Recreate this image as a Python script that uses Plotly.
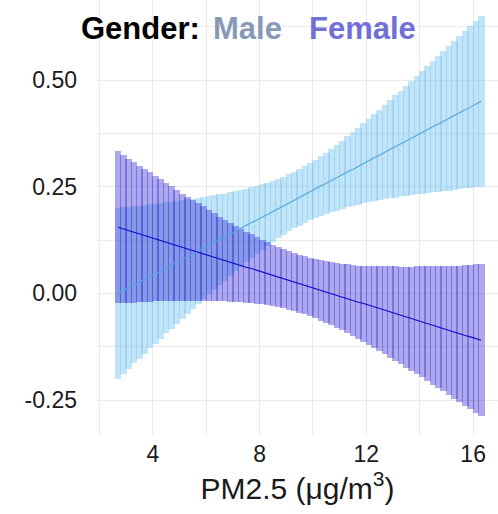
import numpy as np
import plotly.graph_objects as go

# ---- data ----
pm25 = [2.7, 2.9, 3.1, 3.3, 3.5, 3.7, 3.9, 4.1, 4.3, 4.5, 4.7, 4.9, 5.1, 5.3, 5.5,
        5.7, 5.9, 6.1, 6.3, 6.5, 6.7, 6.9, 7.1, 7.3, 7.5, 7.7, 7.9, 8.1, 8.3, 8.5,
        8.7, 8.9, 9.1, 9.3, 9.5, 9.7, 9.9, 10.1, 10.3, 10.5, 10.7, 10.9, 11.1, 11.3,
        11.5, 11.7, 11.9, 12.1, 12.3, 12.5, 12.7, 12.9, 13.1, 13.3, 13.5, 13.7, 13.9,
        14.1, 14.3, 14.5, 14.7, 14.9, 15.1, 15.3, 15.5, 15.7, 15.9, 16.1, 16.3]

male_est = [0.000, 0.007, 0.013, 0.020, 0.026, 0.033, 0.040, 0.046, 0.053, 0.060,
            0.066, 0.073, 0.079, 0.086, 0.093, 0.099, 0.106, 0.113, 0.119, 0.126,
            0.132, 0.139, 0.146, 0.152, 0.159, 0.166, 0.172, 0.179, 0.185, 0.192,
            0.199, 0.205, 0.212, 0.218, 0.225, 0.232, 0.238, 0.245, 0.252, 0.258,
            0.265, 0.271, 0.278, 0.285, 0.291, 0.298, 0.305, 0.311, 0.318, 0.324,
            0.331, 0.338, 0.344, 0.351, 0.357, 0.364, 0.371, 0.377, 0.384, 0.391,
            0.397, 0.404, 0.410, 0.417, 0.424, 0.430, 0.437, 0.444, 0.450]

male_ci = [0.200, 0.195, 0.190, 0.184, 0.179, 0.174, 0.169, 0.164, 0.159, 0.154,
           0.149, 0.144, 0.139, 0.134, 0.129, 0.124, 0.120, 0.115, 0.111, 0.106,
           0.102, 0.098, 0.094, 0.090, 0.086, 0.083, 0.080, 0.077, 0.074, 0.072,
           0.070, 0.068, 0.067, 0.066, 0.066, 0.066, 0.067, 0.068, 0.070, 0.072,
           0.074, 0.077, 0.080, 0.083, 0.086, 0.090, 0.094, 0.098, 0.102, 0.106,
           0.111, 0.115, 0.120, 0.124, 0.129, 0.134, 0.139, 0.144, 0.149, 0.154,
           0.159, 0.164, 0.169, 0.174, 0.179, 0.184, 0.190, 0.195, 0.200]

female_est = [0.155, 0.151, 0.147, 0.143, 0.139, 0.136, 0.132, 0.128, 0.124, 0.120,
              0.116, 0.112, 0.108, 0.104, 0.100, 0.097, 0.093, 0.089, 0.085, 0.081,
              0.077, 0.073, 0.069, 0.065, 0.061, 0.058, 0.054, 0.050, 0.046, 0.042,
              0.038, 0.034, 0.030, 0.026, 0.022, 0.019, 0.015, 0.011, 0.007, 0.003,
              -0.001, -0.005, -0.009, -0.013, -0.017, -0.021, -0.024, -0.028, -0.032,
              -0.036, -0.040, -0.044, -0.048, -0.052, -0.056, -0.060, -0.063, -0.067,
              -0.071, -0.075, -0.079, -0.083, -0.087, -0.091, -0.095, -0.099, -0.102,
              -0.106, -0.110]

female_ci = [0.178, 0.174, 0.169, 0.165, 0.160, 0.156, 0.152, 0.147, 0.143, 0.139,
             0.135, 0.130, 0.126, 0.122, 0.118, 0.114, 0.111, 0.107, 0.103, 0.099,
             0.096, 0.093, 0.089, 0.086, 0.083, 0.081, 0.078, 0.076, 0.074, 0.072,
             0.071, 0.069, 0.069, 0.068, 0.068, 0.068, 0.069, 0.069, 0.071, 0.072,
             0.074, 0.076, 0.078, 0.081, 0.083, 0.086, 0.089, 0.093, 0.096, 0.099,
             0.103, 0.107, 0.111, 0.114, 0.118, 0.122, 0.126, 0.130, 0.135, 0.139,
             0.143, 0.147, 0.152, 0.156, 0.160, 0.165, 0.169, 0.174, 0.178]

x_tick_vals = [4, 8, 12, 16]
x_minor_vals = [2, 6, 10, 14]
y_tick_vals = [-0.25, 0.0, 0.25, 0.5]
y_tick_text = ["-0.25", "0.00", "0.25", "0.50"]
y_minor_vals = [-0.125, 0.125, 0.375, 0.625]
legend_title = "Gender:"
groups = ["Male", "Female"]

# ---- styles ----
FONT = "Liberation Sans, Arial, Helvetica, sans-serif"
GRID = "#EBEBEB"
styles = {
    "Male": dict(fill="rgba(120,196,240,0.45)", line="#4FA6E3", legend="#8899B5"),
    "Female": dict(fill="rgba(40,30,205,0.38)", line="#0A0ACC", legend="#7070D8"),
}
series = {"Male": (male_est, male_ci), "Female": (female_est, female_ci)}

fig = go.Figure()

# ribbons drawn as vertical interval bars
for g in ["Male", "Female"]:
    est = np.array(series[g][0])
    ci = np.array(series[g][1])
    fig.add_trace(go.Bar(
        x=pm25, y=2 * ci, base=est - ci, width=0.25,
        marker=dict(color=styles[g]["fill"], line=dict(width=0)),
        name=g, showlegend=False, hoverinfo="skip",
    ))

for g in ["Male", "Female"]:
    fig.add_trace(go.Scatter(
        x=pm25, y=series[g][0], mode="lines",
        line=dict(color=styles[g]["line"], width=1.1),
        name=g, showlegend=False,
    ))

fig.update_layout(
    width=498, height=514,
    margin=dict(l=97, r=0, t=0, b=79),
    plot_bgcolor="white", paper_bgcolor="white",
    barmode="overlay", bargap=0, showlegend=False,
    font=dict(family=FONT, color="#1a1a1a"),
)

fig.update_xaxes(
    range=[1.91, 16.93], tickmode="array", tickvals=x_tick_vals,
    ticks="", showline=False, zeroline=False,
    showgrid=True, gridcolor=GRID, gridwidth=1.1,
    minor=dict(tickmode="array", tickvals=x_minor_vals, showgrid=True,
               gridcolor=GRID, gridwidth=1.1, ticks=""),
    tickfont=dict(size=23, color="#1a1a1a"), ticklabelstandoff=3,
    title=dict(text="PM2.5 (μg/m<sup>3</sup>)", font=dict(size=30, color="#1a1a1a"),
               standoff=10),
)

fig.update_yaxes(
    range=[-0.332, 0.6875], tickmode="array", tickvals=y_tick_vals,
    ticktext=y_tick_text, ticks="", showline=False, zeroline=False,
    showgrid=True, gridcolor=GRID, gridwidth=1.1,
    minor=dict(tickmode="array", tickvals=y_minor_vals, showgrid=True,
               gridcolor=GRID, gridwidth=1.1, ticks=""),
    tickfont=dict(size=23, color="#1a1a1a"), ticklabelstandoff=19,
)

# legend rendered as coloured text (no keys), as in the reference
legend_items = [(legend_title, "#000000", -0.0424), (groups[0], styles["Male"]["legend"], 0.2868),
                (groups[1], styles["Female"]["legend"], 0.5262)]
for text, color, xp in legend_items:
    fig.add_annotation(
        text=f"<b>{text}</b>", x=xp, y=0.9345, xref="paper", yref="paper",
        xanchor="left", yanchor="middle", showarrow=False,
        font=dict(family=FONT, size=31, color=color), borderpad=0,
    )

fig.write_html("out.html", config={"displayModeBar": False})
